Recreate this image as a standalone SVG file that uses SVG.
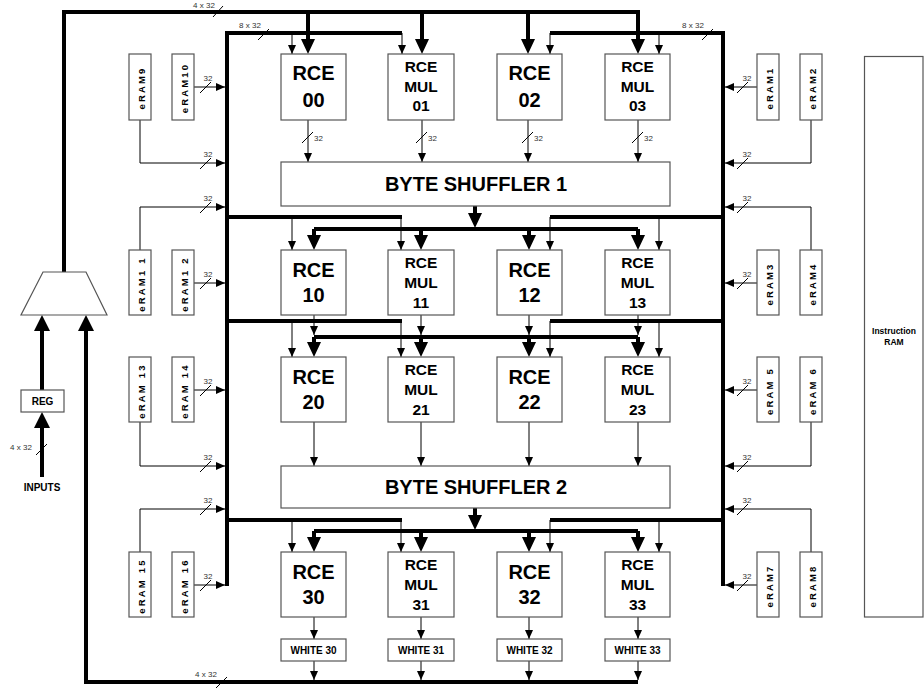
<svg xmlns="http://www.w3.org/2000/svg" xmlns:xlink="http://www.w3.org/1999/xlink" width="924" height="689" viewBox="0 0 924 689">
<style>
.box{fill:#fff;stroke:#555;stroke-width:1.2}
.thick{stroke:#000;stroke-width:4;fill:none;stroke-linecap:butt}
.thin{stroke:#000;stroke-width:1;fill:none}
.sl{stroke:#000;stroke-width:1}
text{font-family:"Liberation Sans",Arial,sans-serif;font-weight:bold;fill:#000;text-anchor:middle}
.big{font-size:20px}
.mid{font-size:15.5px}
.sh{font-size:20px}
.wh{font-size:10px}
.er{font-size:9.5px;letter-spacing:2.2px}
.lb{font-size:8px;font-weight:normal;fill:#333}
.lbs{font-size:8px;font-weight:normal;fill:#333;text-anchor:start}
.ir{font-size:8.5px}
</style>
<defs>
<polygon id="bd" points="-7,-15 7,-15 0,0" fill="#000"/>
<polygon id="bu" points="-8,16 8,16 0,0" fill="#000"/>
<polygon id="sd" points="-4,-9 4,-9 0,0" fill="#000"/>
<polygon id="sr" points="-9,-4 -9,4 0,0" fill="#000"/>
<polygon id="slf" points="9,-4 9,4 0,0" fill="#000"/>
</defs>

<g id="connectors">
<path class="thick" d="M64,272 V12 H638 V40"/>
<path class="thick" d="M308,12 V40 M422,12 V40 M528,12 V40"/>
<use xlink:href="#bd" x="308" y="54"/><use xlink:href="#bd" x="422" y="54"/><use xlink:href="#bd" x="528" y="54"/><use xlink:href="#bd" x="638" y="54"/>
<line class="sl" x1="213" y1="17" x2="223" y2="6"/>
<text class="lb" x="204" y="8">4 x 32</text>

<path class="thick" d="M227,586 V33 H402"/>
<path class="thick" d="M550,33 H723 V586"/>
<path class="thick" d="M227,217 H402 M550,217 H723 M227,321 H402 M550,321 H723 M227,520 H402 M550,520 H723"/>
<line class="sl" x1="258" y1="40" x2="269" y2="29"/>
<text class="lb" x="250" y="28">8 x 32</text>
<line class="sl" x1="702" y1="40" x2="713" y2="29"/>
<text class="lb" x="693" y="28">8 x 32</text>

<path class="thin" d="M292,33 V54 M402,33 V54 M550,33 V54 M659,33 V54"/>
<use xlink:href="#sd" x="292" y="54"/><use xlink:href="#sd" x="402" y="54"/><use xlink:href="#sd" x="550" y="54"/><use xlink:href="#sd" x="659" y="54"/>
<path class="thin" d="M292,217 V250 M401,217 V250 M550,217 V250 M659,217 V250"/>
<use xlink:href="#sd" x="292" y="250"/><use xlink:href="#sd" x="401" y="250"/><use xlink:href="#sd" x="550" y="250"/><use xlink:href="#sd" x="659" y="250"/>
<path class="thin" d="M292,321 V357 M401,321 V357 M550,321 V357 M659,321 V357"/>
<use xlink:href="#sd" x="292" y="357"/><use xlink:href="#sd" x="401" y="357"/><use xlink:href="#sd" x="550" y="357"/><use xlink:href="#sd" x="659" y="357"/>
<path class="thin" d="M292,520 V552 M401,520 V552 M550,520 V552 M659,520 V552"/>
<use xlink:href="#sd" x="292" y="552"/><use xlink:href="#sd" x="401" y="552"/><use xlink:href="#sd" x="550" y="552"/><use xlink:href="#sd" x="659" y="552"/>

<path class="thin" d="M308,120 V162 M422,120 V162 M528,120 V162 M638,120 V162"/>
<use xlink:href="#sd" x="308" y="162"/><use xlink:href="#sd" x="422" y="162"/><use xlink:href="#sd" x="528" y="162"/><use xlink:href="#sd" x="638" y="162"/>
<path class="sl" d="M302,143 L313,132 M416,143 L427,132 M522,143 L533,132 M632,143 L643,132"/>
<text class="lbs" x="314" y="141">32</text><text class="lbs" x="428" y="141">32</text><text class="lbs" x="534" y="141">32</text><text class="lbs" x="644" y="141">32</text>

<path class="thick" d="M475,206 V214"/>
<use xlink:href="#bd" x="475" y="228"/>
<path class="thick" d="M314,229 H638 M314,229 V236 M421,229 V236 M529,229 V236 M638,229 V236"/>
<use xlink:href="#bd" x="314" y="250"/><use xlink:href="#bd" x="421" y="250"/><use xlink:href="#bd" x="529" y="250"/><use xlink:href="#bd" x="638" y="250"/>

<path class="thin" d="M314,315 V335 M421,315 V335 M529,315 V335 M638,315 V335"/>
<use xlink:href="#sd" x="314" y="335"/><use xlink:href="#sd" x="421" y="335"/><use xlink:href="#sd" x="529" y="335"/><use xlink:href="#sd" x="638" y="335"/>
<path class="thick" d="M314,337 H638 M314,337 V343 M421,337 V343 M529,337 V343 M638,337 V343"/>
<use xlink:href="#bd" x="314" y="357"/><use xlink:href="#bd" x="421" y="357"/><use xlink:href="#bd" x="529" y="357"/><use xlink:href="#bd" x="638" y="357"/>

<path class="thin" d="M314,422 V466 M421,422 V466 M529,422 V466 M638,422 V466"/>
<use xlink:href="#sd" x="314" y="466"/><use xlink:href="#sd" x="421" y="466"/><use xlink:href="#sd" x="529" y="466"/><use xlink:href="#sd" x="638" y="466"/>

<path class="thick" d="M475,508 V516"/>
<use xlink:href="#bd" x="475" y="530"/>
<path class="thick" d="M314,531 H638 M314,531 V538 M421,531 V538 M529,531 V538 M638,531 V538"/>
<use xlink:href="#bd" x="314" y="552"/><use xlink:href="#bd" x="421" y="552"/><use xlink:href="#bd" x="529" y="552"/><use xlink:href="#bd" x="638" y="552"/>

<path class="thin" d="M314,617 V639 M421,617 V639 M529,617 V639 M638,617 V639"/>
<use xlink:href="#sd" x="314" y="639"/><use xlink:href="#sd" x="421" y="639"/><use xlink:href="#sd" x="529" y="639"/><use xlink:href="#sd" x="638" y="639"/>
<path class="thin" d="M314,661 V680 M421,661 V680 M529,661 V680 M638,661 V680"/>
<use xlink:href="#sd" x="314" y="680"/><use xlink:href="#sd" x="421" y="680"/><use xlink:href="#sd" x="529" y="680"/><use xlink:href="#sd" x="638" y="680"/>
<path class="thick" d="M638,682 H86 V330"/>
<use xlink:href="#bu" x="86" y="315"/>
<line class="sl" x1="216" y1="688" x2="227" y2="677"/>
<text class="lb" x="206" y="677">4 x 32</text>

<path class="thick" d="M42,477 V427" stroke-linecap="round"/>
<use xlink:href="#bu" x="42" y="412"/>
<path class="thick" d="M42,390 V330"/>
<use xlink:href="#bu" x="42" y="315"/>
<line class="sl" x1="36" y1="455" x2="47" y2="444"/>
<text class="lb" x="21" y="450">4 x 32</text>

<path class="thin" d="M194,87 H225"/><use xlink:href="#sr" x="225" y="87"/>
<path class="thin" d="M140,120 V163 H225"/><use xlink:href="#sr" x="225" y="163"/>
<path class="thin" d="M140,250 V207 H225"/><use xlink:href="#sr" x="225" y="207"/>
<path class="thin" d="M194,283 H225"/><use xlink:href="#sr" x="225" y="283"/>
<path class="thin" d="M194,390 H225"/><use xlink:href="#sr" x="225" y="390"/>
<path class="thin" d="M140,422 V466 H225"/><use xlink:href="#sr" x="225" y="466"/>
<path class="thin" d="M140,552 V509 H225"/><use xlink:href="#sr" x="225" y="509"/>
<path class="thin" d="M194,585 H225"/><use xlink:href="#sr" x="225" y="585"/>
<path class="sl" d="M200,93 L211,82 M200,169 L211,158 M200,213 L211,202 M200,289 L211,278 M200,396 L211,385 M200,472 L211,461 M200,515 L211,504 M200,591 L211,580"/>
<text class="lb" x="208" y="81">32</text><text class="lb" x="208" y="157">32</text><text class="lb" x="208" y="201">32</text><text class="lb" x="208" y="277">32</text>
<text class="lb" x="208" y="384">32</text><text class="lb" x="208" y="460">32</text><text class="lb" x="208" y="503">32</text><text class="lb" x="208" y="579">32</text>

<path class="thin" d="M757,87 H725"/><use xlink:href="#slf" x="725" y="87"/>
<path class="thin" d="M811,120 V163 H725"/><use xlink:href="#slf" x="725" y="163"/>
<path class="thin" d="M811,250 V207 H725"/><use xlink:href="#slf" x="725" y="207"/>
<path class="thin" d="M757,283 H725"/><use xlink:href="#slf" x="725" y="283"/>
<path class="thin" d="M757,390 H725"/><use xlink:href="#slf" x="725" y="390"/>
<path class="thin" d="M811,422 V466 H725"/><use xlink:href="#slf" x="725" y="466"/>
<path class="thin" d="M811,552 V509 H725"/><use xlink:href="#slf" x="725" y="509"/>
<path class="thin" d="M757,585 H725"/><use xlink:href="#slf" x="725" y="585"/>
<path class="sl" d="M737,93 L748,82 M737,169 L748,158 M737,213 L748,202 M737,289 L748,278 M737,396 L748,385 M737,472 L748,461 M737,515 L748,504 M737,591 L748,580"/>
<text class="lb" x="747" y="81">32</text><text class="lb" x="747" y="157">32</text><text class="lb" x="747" y="201">32</text><text class="lb" x="747" y="277">32</text>
<text class="lb" x="747" y="384">32</text><text class="lb" x="747" y="460">32</text><text class="lb" x="747" y="503">32</text><text class="lb" x="747" y="579">32</text>
</g>

<g id="mux"><polygon class="box" points="43,272 86,272 107,315 21,315"/></g>
<g id="reg"><rect class="box" x="21" y="390" width="43" height="22"/><text class="wh" x="42.5" y="405">REG</text></g>
<g id="inputs"><text class="wh" x="42" y="491">INPUTS</text></g>

<g id="rce00"><rect class="box" x="281" y="54" width="65" height="66"/><text class="big" x="313.5" y="80">RCE</text><text class="big" x="313.5" y="107">00</text></g>
<g id="rce01"><rect class="box" x="388" y="54" width="66" height="66"/><text class="mid" x="421" y="72">RCE</text><text class="mid" x="421" y="92">MUL</text><text class="mid" x="421" y="111">01</text></g>
<g id="rce02"><rect class="box" x="497" y="54" width="65" height="66"/><text class="big" x="529.5" y="80">RCE</text><text class="big" x="529.5" y="107">02</text></g>
<g id="rce03"><rect class="box" x="605" y="54" width="65" height="66"/><text class="mid" x="637.5" y="72">RCE</text><text class="mid" x="637.5" y="92">MUL</text><text class="mid" x="637.5" y="111">03</text></g>

<g id="shuffler1"><rect class="box" x="281" y="162" width="389" height="44"/><text class="sh" x="476" y="191">BYTE SHUFFLER 1</text></g>

<g id="rce10"><rect class="box" x="281" y="250" width="65" height="65"/><text class="big" x="313.5" y="277">RCE</text><text class="big" x="313.5" y="302">10</text></g>
<g id="rce11"><rect class="box" x="388" y="250" width="66" height="65"/><text class="mid" x="421" y="268">RCE</text><text class="mid" x="421" y="288">MUL</text><text class="mid" x="421" y="308">11</text></g>
<g id="rce12"><rect class="box" x="497" y="250" width="65" height="65"/><text class="big" x="529.5" y="277">RCE</text><text class="big" x="529.5" y="302">12</text></g>
<g id="rce13"><rect class="box" x="605" y="250" width="65" height="65"/><text class="mid" x="637.5" y="268">RCE</text><text class="mid" x="637.5" y="288">MUL</text><text class="mid" x="637.5" y="308">13</text></g>

<g id="rce20"><rect class="box" x="281" y="357" width="65" height="65"/><text class="big" x="313.5" y="384">RCE</text><text class="big" x="313.5" y="409">20</text></g>
<g id="rce21"><rect class="box" x="388" y="357" width="66" height="65"/><text class="mid" x="421" y="375">RCE</text><text class="mid" x="421" y="395">MUL</text><text class="mid" x="421" y="415">21</text></g>
<g id="rce22"><rect class="box" x="497" y="357" width="65" height="65"/><text class="big" x="529.5" y="384">RCE</text><text class="big" x="529.5" y="409">22</text></g>
<g id="rce23"><rect class="box" x="605" y="357" width="65" height="65"/><text class="mid" x="637.5" y="375">RCE</text><text class="mid" x="637.5" y="395">MUL</text><text class="mid" x="637.5" y="415">23</text></g>

<g id="shuffler2"><rect class="box" x="281" y="466" width="389" height="42"/><text class="sh" x="476" y="494">BYTE SHUFFLER 2</text></g>

<g id="rce30"><rect class="box" x="281" y="552" width="65" height="65"/><text class="big" x="313.5" y="579">RCE</text><text class="big" x="313.5" y="604">30</text></g>
<g id="rce31"><rect class="box" x="388" y="552" width="66" height="65"/><text class="mid" x="421" y="570">RCE</text><text class="mid" x="421" y="590">MUL</text><text class="mid" x="421" y="610">31</text></g>
<g id="rce32"><rect class="box" x="497" y="552" width="65" height="65"/><text class="big" x="529.5" y="579">RCE</text><text class="big" x="529.5" y="604">32</text></g>
<g id="rce33"><rect class="box" x="605" y="552" width="65" height="65"/><text class="mid" x="637.5" y="570">RCE</text><text class="mid" x="637.5" y="590">MUL</text><text class="mid" x="637.5" y="610">33</text></g>

<g id="white30"><rect class="box" x="281" y="639" width="65" height="22"/><text class="wh" x="313.5" y="654">WHITE 30</text></g>
<g id="white31"><rect class="box" x="388" y="639" width="66" height="22"/><text class="wh" x="421" y="654">WHITE 31</text></g>
<g id="white32"><rect class="box" x="497" y="639" width="65" height="22"/><text class="wh" x="529.5" y="654">WHITE 32</text></g>
<g id="white33"><rect class="box" x="605" y="639" width="65" height="22"/><text class="wh" x="637.5" y="654">WHITE 33</text></g>

<g id="eram9"><rect class="box" x="129" y="54" width="22" height="66"/><text class="er" transform="translate(141,88) rotate(-90)" y="3.5">eRAM9</text></g>
<g id="eram10"><rect class="box" x="172" y="54" width="22" height="66"/><text class="er" transform="translate(184,88) rotate(-90)" y="3.5">eRAM10</text></g>
<g id="eram11"><rect class="box" x="129" y="250" width="22" height="65"/><text class="er" transform="translate(141,284) rotate(-90)" y="3.5">eRAM1 1</text></g>
<g id="eram12"><rect class="box" x="172" y="250" width="22" height="65"/><text class="er" transform="translate(184,284) rotate(-90)" y="3.5">eRAM1 2</text></g>
<g id="eram13"><rect class="box" x="129" y="357" width="22" height="65"/><text class="er" transform="translate(141,391) rotate(-90)" y="3.5">eRAM 13</text></g>
<g id="eram14"><rect class="box" x="172" y="357" width="22" height="65"/><text class="er" transform="translate(184,391) rotate(-90)" y="3.5">eRAM 14</text></g>
<g id="eram15"><rect class="box" x="129" y="552" width="22" height="65"/><text class="er" transform="translate(141,586) rotate(-90)" y="3.5">eRAM 15</text></g>
<g id="eram16"><rect class="box" x="172" y="552" width="22" height="65"/><text class="er" transform="translate(184,586) rotate(-90)" y="3.5">eRAM 16</text></g>

<g id="eram1"><rect class="box" x="757" y="54" width="22" height="66"/><text class="er" transform="translate(769,88) rotate(-90)" y="3.5">eRAM1</text></g>
<g id="eram2"><rect class="box" x="800" y="54" width="22" height="66"/><text class="er" transform="translate(812,88) rotate(-90)" y="3.5">eRAM2</text></g>
<g id="eram3"><rect class="box" x="757" y="250" width="22" height="65"/><text class="er" transform="translate(769,284) rotate(-90)" y="3.5">eRAM3</text></g>
<g id="eram4"><rect class="box" x="800" y="250" width="22" height="65"/><text class="er" transform="translate(812,284) rotate(-90)" y="3.5">eRAM4</text></g>
<g id="eram5"><rect class="box" x="757" y="357" width="22" height="65"/><text class="er" transform="translate(769,391) rotate(-90)" y="3.5">eRAM 5</text></g>
<g id="eram6"><rect class="box" x="800" y="357" width="22" height="65"/><text class="er" transform="translate(812,391) rotate(-90)" y="3.5">eRAM 6</text></g>
<g id="eram7"><rect class="box" x="757" y="552" width="22" height="65"/><text class="er" transform="translate(769,586) rotate(-90)" y="3.5">eRAM7</text></g>
<g id="eram8"><rect class="box" x="800" y="552" width="22" height="65"/><text class="er" transform="translate(812,586) rotate(-90)" y="3.5">eRAM8</text></g>

<g id="iram"><rect class="box" x="864.5" y="56.5" width="58.5" height="560.5"/><text class="ir" x="894" y="334">Instruction</text><text class="ir" x="894" y="345">RAM</text></g>
</svg>
